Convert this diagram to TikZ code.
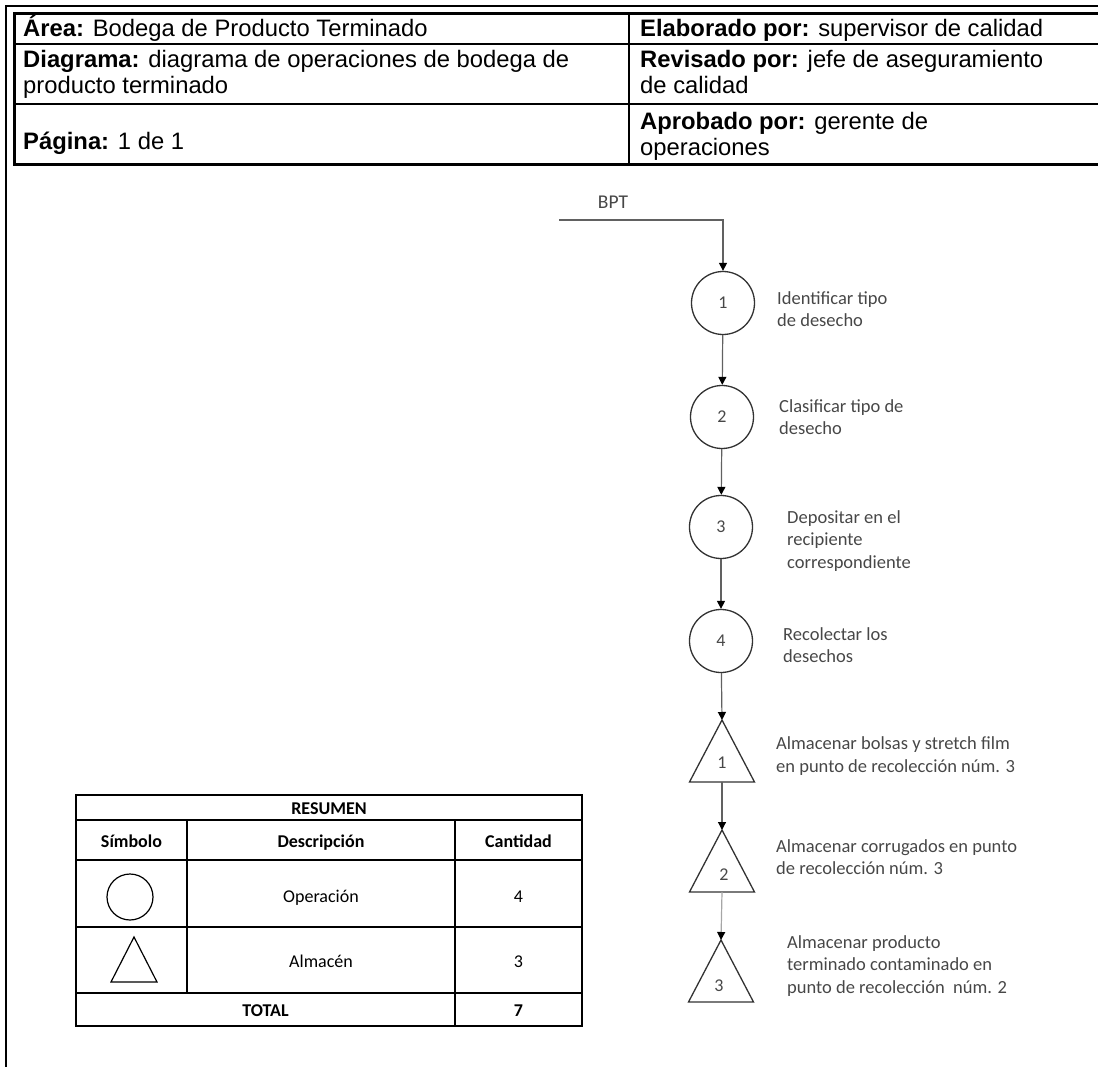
\documentclass[tikz,border=0pt]{standalone}
\usepackage{fontspec}
\setmainfont{Liberation Sans}
\newfontfamily\calfont{Carlito}
\usetikzlibrary{arrows.meta}

\begin{document}
\begin{tikzpicture}[x=1pt,y=-1pt,
  hdr/.style={anchor=base west, inner sep=0pt, font=\fontsize{23.8}{27}\selectfont},
  flowtxt/.style={anchor=west, inner sep=0pt, align=left, text=black!72,
    font=\calfont\fontsize{18.5}{22.5}\selectfont},
  num/.style={inner sep=0pt, text=black!72, text height=11.5pt, text depth=0pt,
    font=\calfont\fontsize{18}{18}\selectfont},
  op/.style={circle, draw=black!80, line width=1.3pt, minimum size=63pt, inner sep=0pt},
  shapeline/.style={draw=black!80, line width=1.3pt, line join=miter},
  flow/.style={draw=black!62, line width=1.2pt, -{Triangle[width=8pt,length=8pt,color=black]}},
  tbl/.style={line width=2.6pt, line cap=rect},
  tbltxt/.style={inner sep=0pt, text height=12pt, text depth=0pt,
    font=\calfont\fontsize{18}{18}\selectfont},
  tblhead/.style={tbltxt, font=\calfont\bfseries\fontsize{18}{18}\selectfont},
  pics/store/.style={code={
    \draw[shapeline] (0,-31) -- (32.5,31) -- (-32.5,31) -- cycle;
    \coordinate (-top) at (0,-31);
    \coordinate (-bot) at (0,31);
  }}
]
\useasboundingbox (0,0) rectangle (1098,1067);

% outer frame
\draw[line width=2pt] (1098,6) -- (6,6) -- (6,1067);

% header block
\draw[line width=3pt] (1098,14) -- (14,14) -- (14,165) -- (1098,165);
\draw[line width=2pt] (14,44) -- (1098,44);
\draw[line width=2pt] (14,104) -- (1098,104);
\draw[line width=2pt] (629,14) -- (629,165);

\node[hdr] (area) at (23,37) {\textbf{Área:} Bodega de Producto Terminado};
\node[hdr] (diag) at (23,68) {\textbf{Diagrama:} diagrama de operaciones de bodega de};
\node[hdr] (diag2) at (23,94) {producto terminado};
\node[hdr] (pag) at (23,150) {\textbf{Página:} 1 de 1};
\node[hdr] (elab) at (640,37) {\textbf{Elaborado por:} supervisor de calidad};
\node[hdr] (rev) at (640,68) {\textbf{Revisado por:} jefe de aseguramiento};
\node[hdr] (rev2) at (640,94) {de calidad};
\node[hdr] (apr) at (640,130) {\textbf{Aprobado por:} gerente de};
\node[hdr] (apr2) at (640,156) {operaciones};

% process flow
\node[num, font=\calfont\fontsize{19.5}{19.5}\selectfont] (bpt) at (613,203) {BPT};
\coordinate (start) at (559,220);
\coordinate (bend) at (723,220);

\node[op] (o1) at (723,303) {};
\node[op] (o2) at (722,417) {};
\node[op] (o3) at (721,527) {};
\node[op] (o4) at (721,641) {};
\node[num] at (o1) {1};
\node[num] at (o2) {2};
\node[num] at (o3) {3};
\node[num] at (o4) {4};

\pic (s1) at (722,751) {store};
\pic (s2) at (722,861) {store};
\pic (s3) at (721,971) {store};
\node[num] (n1) at (722,763) {1};
\node[num] (n2) at (724,875) {2};
\node[num] (n3) at (719,986) {3};

\draw[flow] (start) -- (bend) -- (o1.north);
\draw[flow] (o1) -- (o2);
\draw[flow] (o2) -- (o3);
\draw[flow] (o3) -- (o4);
\draw[flow] (o4) -- (s1-top);
\draw[flow] (s1-bot) -- (s2-top);
\draw[flow, draw=black!35] (s2-bot) -- (s3-top);

\node[flowtxt] (t1) at (777,309) {Identificar tipo\\de desecho};
\node[flowtxt] (t2) at (779,417) {Clasificar tipo de\\desecho};
\node[flowtxt] (t3) at (787,541) {Depositar en el\\recipiente\\correspondiente};
\node[flowtxt] (t4) at (783,645) {Recolectar los\\desechos};
\node[flowtxt] (t5) at (776,756) {Almacenar bolsas y stretch film\\en punto de recolección núm. 3};
\node[flowtxt] (t6) at (776,857) {Almacenar corrugados en punto\\de recolección núm. 3};
\node[flowtxt] (t7) at (787,966) {Almacenar producto\\terminado contaminado en\\punto de recolección\ \ núm. 2};

% summary table
\draw[tbl] (76,795) rectangle (582,1026);
\draw[tbl] (76,820) -- (582,820);
\draw[tbl] (76,860) -- (582,860);
\draw[tbl] (76,927) -- (582,927);
\draw[tbl] (76,993) -- (582,993);
\draw[tbl] (187,820) -- (187,993);
\draw[tbl] (455,820) -- (455,1026);

\node[tblhead] (res) at (329,808) {RESUMEN};
\node[tblhead] (hsym) at (131.5,841) {Símbolo};
\node[tblhead] (hdesc) at (321,841) {Descripción};
\node[tblhead] (hcant) at (518.5,841) {Cantidad};
\node[draw=black, line width=1.2pt, circle, minimum size=46pt, inner sep=0pt] (symop) at (130,897) {};
\draw[black, line width=1.2pt] (134,937) -- (157,982) -- (111,982) -- cycle;
\node[tbltxt] (dop) at (321,896) {Operación};
\node[tbltxt] (cop) at (518.5,896) {4};
\node[tbltxt] (dalm) at (321,961) {Almacén};
\node[tbltxt] (calm) at (518.5,961) {3};
\node[tblhead] (tot) at (265.5,1010) {TOTAL};
\node[tblhead] (ctot) at (518.5,1010) {7};
\end{tikzpicture}
\end{document}
